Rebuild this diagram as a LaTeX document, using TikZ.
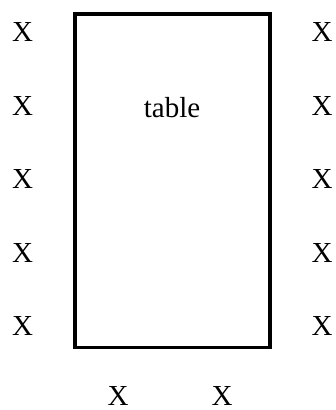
\documentclass[tikz,border=0pt]{standalone}
\usepackage{fontspec}
\setmainfont{Liberation Serif}
\usepackage{tikz}

\begin{document}
\begin{tikzpicture}[x={(1pt,0pt)}, y={(0pt,-1pt)}, baseline=0cm,
  seat/.style={inner sep=0pt, font=\fontsize{29}{32}\selectfont}]
  \useasboundingbox (0,0) rectangle (336,410);
  % Nodes
  \node[draw,rectangle,line width=3.2pt,minimum width=195pt,minimum height=333.5pt,inner sep=0pt] (Table) at (172.5,180.7) {};
  \node[seat] (Label) at (172,108) {table};
  \node[seat] (Left1) at (22.5,32) {X};
  \node[seat] (Left2) at (22.5,105.6) {X};
  \node[seat] (Left3) at (22.5,179.2) {X};
  \node[seat] (Left4) at (22.5,252.8) {X};
  \node[seat] (Left5) at (22.5,326.4) {X};
  \node[seat] (Right1) at (322,32) {X};
  \node[seat] (Right2) at (322,105.6) {X};
  \node[seat] (Right3) at (322,179.2) {X};
  \node[seat] (Right4) at (322,252.8) {X};
  \node[seat] (Right5) at (322,326.4) {X};
  \node[seat] (Bottom1) at (118,396) {X};
  \node[seat] (Bottom2) at (222,396) {X};
\end{tikzpicture}
\end{document}
